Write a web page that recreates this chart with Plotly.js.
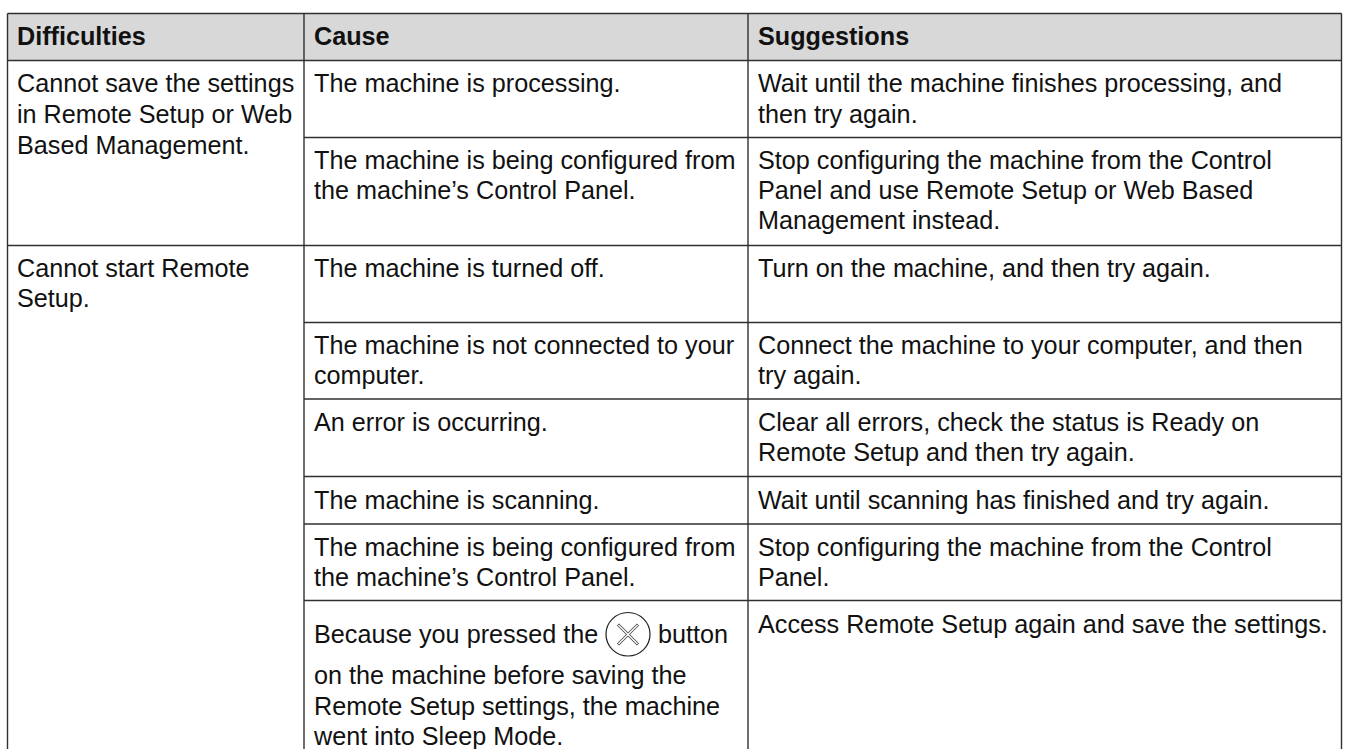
<!DOCTYPE html>
<html><head><meta charset="utf-8">
<script src="https://cdn.plot.ly/plotly-3.0.1.min.js"></script>
<style>html,body{margin:0;padding:0;background:#fff;overflow:hidden}#c{width:1347px;height:749px}</style>
</head><body><div id="c"></div>
<script>
const headers = ["Difficulties","Cause","Suggestions"];
const headerX = [17,314,758];
const headerY = [38.5,38.5,38.5];
const col1Lines = ["Cannot save the settings","in Remote Setup or Web","Based Management.","Cannot start Remote","Setup."];
const col1Y = [85.5,116.5,147.5,270.5,300.5];
const col2Lines = ["The machine is processing.","The machine is being configured from","the machine’s Control Panel.","The machine is turned off.","The machine is not connected to your","computer.","An error is occurring.","The machine is scanning.","The machine is being configured from","the machine’s Control Panel.","Because you pressed the","button","on the machine before saving the","Remote Setup settings, the machine","went into Sleep Mode."];
const col2X = [314,314,314,314,314,314,314,314,314,314,314,658,314,314,314];
const col2Y = [85.5,162.5,192.5,270.5,347.5,377.5,424.5,502.5,549.5,579.5,636.5,636.5,677.5,708.5,738.5];
const col3Lines = ["Wait until the machine finishes processing, and","then try again.","Stop configuring the machine from the Control","Panel and use Remote Setup or Web Based","Management instead.","Turn on the machine, and then try again.","Connect the machine to your computer, and then","try again.","Clear all errors, check the status is Ready on","Remote Setup and then try again.","Wait until scanning has finished and try again.","Stop configuring the machine from the Control","Panel.","Access Remote Setup again and save the settings."];
const col3Y = [85.5,116.5,162.5,192.5,222.5,270.5,347.5,377.5,424.5,454.5,502.5,549.5,579.5,626.5];
const col3X = col3Y.map(()=>758);
const col1X = col1Y.map(()=>17);

const tableLeft=7.5, tableRight=1341.5, tableTop=13.5, headerBottom=60.5, tableBottom=749;
const colA=304, colB=748;
const fullRules=[245.5];
const rightRules=[137.5,322.5,399,476.5,524,600.5];
const lineColor="#303030";
const lw=1.4;
function seg(x0,y0,x1,y1,w,c){return {type:"line",x0,y0,x1,y1,xref:"x",yref:"y",line:{color:c||lineColor,width:w||lw}};}
const shapes=[
 {type:"rect",x0:tableLeft,x1:tableRight,y0:tableTop,y1:headerBottom,xref:"x",yref:"y",fillcolor:"#d8d8d8",line:{width:0},layer:"below"},
 seg(tableLeft,tableTop,tableRight,tableTop),
 seg(tableLeft,headerBottom,tableRight,headerBottom),
 seg(tableLeft,tableTop,tableLeft,tableBottom),
 seg(colA,tableTop,colA,tableBottom),
 seg(colB,tableTop,colB,tableBottom),
 seg(tableRight,tableTop,tableRight,tableBottom),
 ...fullRules.map(y=>seg(tableLeft,y,tableRight,y)),
 ...rightRules.map(y=>seg(colA,y,tableRight,y)),
 {type:"circle",x0:606,x1:650,y0:612.5,y1:656,xref:"x",yref:"y",line:{color:"#222",width:1.2}},
 seg(618,624.5,638,644.5,3,"#444"),
 seg(618,644.5,638,624.5,3,"#444"),
 seg(618.5,625,637.5,644,1.4,"#fff"),
 seg(618.5,644,637.5,625,1.4,"#fff")
];
const font={family:'"Liberation Sans", Arial, sans-serif',size:25.2,color:"#111"};
function textTrace(x,y,t,f){return {type:"scatter",mode:"text",x:x,y:y,text:t,textposition:"middle right",textfont:f,hoverinfo:"skip",showlegend:false,cliponaxis:false};}
const data=[
 textTrace(headerX,headerY,headers,{family:'"Liberation Sans", Arial, sans-serif',size:25.2,color:"#111",weight:700}),
 textTrace(col1X,col1Y,col1Lines,font),
 textTrace(col2X,col2Y,col2Lines,font),
 textTrace(col3X,col3Y,col3Lines,font)
];
const axis={visible:false,fixedrange:true,showgrid:false,zeroline:false};
Plotly.newPlot("c",data,{
 width:1347,height:749,margin:{l:0,r:0,t:0,b:0},paper_bgcolor:"#fff",plot_bgcolor:"#fff",showlegend:false,
 xaxis:Object.assign({range:[0,1347]},axis),
 yaxis:Object.assign({range:[749,0]},axis),
 shapes:shapes
},{displayModeBar:false,staticPlot:true});
</script></body></html>
